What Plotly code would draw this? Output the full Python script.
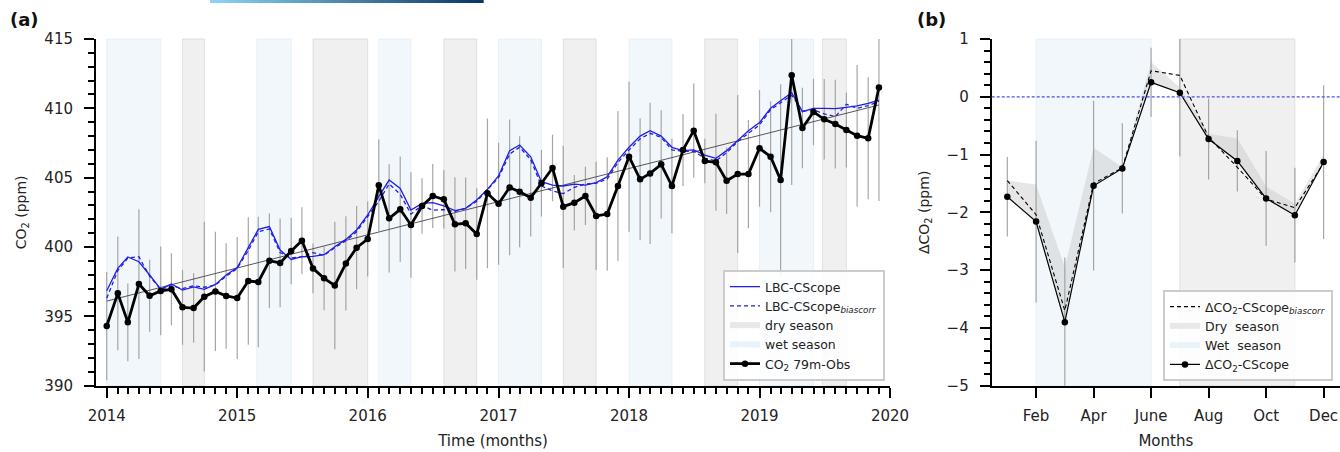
import numpy as np
import pandas as pd
import plotly.graph_objects as go

# ---------------- data: panel (a), monthly series 2014-01 .. 2019-12 ----------------
months = pd.date_range("2014-01-01", "2019-12-01", freq="MS")

obs_co2 = [394.30, 396.66, 394.57, 397.33, 396.49, 396.83, 396.95, 395.65, 395.60, 396.42, 396.80, 396.47,
           396.32, 397.55, 397.48, 399.01, 398.85, 399.71, 400.46, 398.46, 397.74, 397.23, 398.82, 399.95,
           400.58, 404.45, 402.07, 402.72, 401.59, 402.96, 403.68, 403.44, 401.64, 401.71, 400.94, 403.87,
           403.12, 404.30, 403.99, 403.56, 404.60, 405.70, 402.91, 403.20, 403.68, 402.24, 402.38, 404.40,
           406.51, 404.88, 405.31, 405.96, 404.40, 407.00, 408.39, 406.20, 406.11, 404.78, 405.26, 405.26,
           407.12, 406.51, 404.83, 412.38, 408.58, 409.74, 409.21, 408.87, 408.44, 408.03, 407.84, 411.51]

obs_err = [3.9, 4.1, 2.8, 5.4, 2.6, 3.2, 2.6, 2.7, 2.5, 5.4, 4.3, 3.8,
           4.4, 4.6, 4.7, 3.4, 3.2, 2.4, 2.4, 1.8, 2.3, 4.6, 3.4, 3.0,
           2.7, 3.3, 3.9, 3.8, 3.8, 2.0, 2.3, 2.1, 3.4, 3.3, 3.3, 5.4,
           4.4, 4.9, 4.0, 2.8, 2.4, 2.4, 4.4, 2.0, 2.1, 3.9, 4.1, 5.4,
           5.4, 4.4, 5.1, 3.9, 3.4, 2.6, 3.4, 1.6, 3.5, 2.4, 5.7, 3.9,
           4.2, 4.0, 6.9, 7.9, 2.9, 2.4, 2.9, 3.2, 2.7, 5.1, 4.4, 8.2]

lbc_cscope = [396.85, 398.46, 399.28, 398.94, 397.98, 396.96, 397.33, 396.90, 397.12, 396.95, 397.30, 397.98,
              398.52, 400.02, 401.27, 401.47, 399.78, 399.10, 399.30, 399.33, 399.45, 400.02, 400.55, 401.23,
              402.31, 403.63, 404.83, 404.23, 402.67, 403.15, 403.20, 402.96, 402.62, 402.79, 403.39, 404.16,
              405.12, 406.95, 407.36, 406.51, 404.71, 404.47, 404.40, 404.54, 404.47, 404.64, 405.07, 406.27,
              407.19, 408.00, 408.39, 408.00, 407.19, 406.95, 407.00, 406.63, 406.40, 406.95, 407.72, 408.39,
              408.97, 410.00, 410.55, 411.13, 409.76, 410.00, 410.00, 409.98, 410.07, 410.17, 410.36, 410.60]

lbc_biascorr = [396.30, 398.30, 399.20, 399.30, 397.90, 396.95, 397.20, 397.00, 397.20, 397.10, 397.25, 397.90,
                398.45, 399.75, 401.10, 401.30, 399.60, 399.20, 399.30, 399.59, 399.40, 399.95, 400.45, 401.10,
                402.20, 403.30, 404.55, 403.80, 402.38, 403.00, 402.65, 402.70, 402.55, 402.80, 403.30, 404.10,
                405.00, 406.70, 407.20, 406.30, 404.40, 404.05, 403.85, 404.30, 404.55, 404.60, 404.90, 406.10,
                407.00, 407.80, 408.20, 407.90, 407.00, 406.90, 406.90, 406.40, 406.20, 406.80, 407.60, 408.20,
                408.80, 409.90, 410.40, 410.95, 409.80, 409.90, 409.60, 409.40, 410.30, 410.00, 410.20, 410.50]

trend_dates = ["2014-01-01", "2019-12-01"]
trend_co2 = [396.10, 410.24]

wet_start = ["2014-01-01", "2015-02-25", "2016-02-01", "2017-01-01", "2018-01-01", "2019-01-01"]
wet_end = ["2014-06-01", "2015-06-01", "2016-05-01", "2017-05-01", "2018-05-01", "2019-06-01"]
dry_start = ["2014-08-01", "2015-08-01", "2016-08-01", "2017-07-01", "2018-08-01", "2019-06-26"]
dry_end = ["2014-10-01", "2016-01-01", "2016-11-01", "2017-10-01", "2018-11-01", "2019-09-01"]

year_ticks = ["2014-01-01", "2015-01-01", "2016-01-01", "2017-01-01", "2018-01-01", "2019-01-01", "2020-01-01"]
year_labels = ["2014", "2015", "2016", "2017", "2018", "2019", "2020"]

# ---------------- data: panel (b), mean seasonal anomaly ----------------
month_num = list(range(1, 13))
delta_cscope = [-1.73, -2.16, -3.90, -1.54, -1.24, 0.25, 0.07, -0.73, -1.11, -1.76, -2.05, -1.13]
delta_err = [0.69, 1.40, 1.12, 1.47, 0.78, 0.60, 1.10, 0.70, 0.53, 0.82, 0.82, 1.33]
delta_biascorr = [-1.45, -2.04, -3.70, -1.50, -1.23, 0.45, 0.37, -0.70, -1.22, -1.77, -1.92, -1.15]
delta_band_hi = [-1.45, -1.52, -2.95, -0.88, -1.22, 0.60, 0.16, -0.64, -0.72, -1.55, -1.85, -1.00]
delta_band_lo = [-1.73, -2.17, -3.90, -1.55, -1.25, 0.25, 0.07, -0.73, -1.11, -1.77, -2.05, -1.13]
wet_months = [2, 6]
dry_months = [7, 11]
month_ticks = [2, 4, 6, 8, 10, 12]
month_labels = ["Feb", "Apr", "June", "Aug", "Oct", "Dec"]

# ---------------- styling ----------------
W, H = 1340, 452
FONT = "DejaVu Sans"
DRY = "rgba(226,226,226,0.5)"
DRY_EDGE = "rgba(205,205,205,0.55)"
WET = "rgba(224,238,246,0.45)"
WET_EDGE = "rgba(215,232,242,0.5)"
BLUE = "#1f1fe6"
ERR = "rgba(150,150,150,0.85)"

ydom = [1 - 385.7 / H, 1 - 39 / H]

fig = go.Figure()

# season shading, panel (a)
for s, e in zip(dry_start, dry_end):
    fig.add_shape(type="rect", xref="x", yref="y domain", x0=s, x1=e, y0=0, y1=1,
                  fillcolor=DRY, line=dict(color=DRY_EDGE, width=1), layer="below")
for s, e in zip(wet_start, wet_end):
    fig.add_shape(type="rect", xref="x", yref="y domain", x0=s, x1=e, y0=0, y1=1,
                  fillcolor=WET, line=dict(color=WET_EDGE, width=1), layer="below")

# season shading, panel (b)
fig.add_shape(type="rect", xref="x2", yref="y2 domain", x0=wet_months[0], x1=wet_months[1], y0=0, y1=1,
              fillcolor=WET, line=dict(color=WET_EDGE, width=1), layer="below")
fig.add_shape(type="rect", xref="x2", yref="y2 domain", x0=dry_months[0], x1=dry_months[1], y0=0, y1=1,
              fillcolor=DRY, line=dict(color=DRY_EDGE, width=1), layer="below")

# ---- panel (a) traces ----
fig.add_trace(go.Scatter(x=months, y=obs_co2, mode="markers",
                         marker=dict(size=1, color="rgba(0,0,0,0)"),
                         error_y=dict(type="data", array=obs_err, color=ERR, thickness=1.2, width=0),
                         showlegend=False, hoverinfo="skip"))
fig.add_trace(go.Scatter(x=trend_dates, y=trend_co2, mode="lines",
                         line=dict(color="#444444", width=0.9), showlegend=False))
fig.add_trace(go.Scatter(x=months, y=lbc_cscope, mode="lines", name="LBC-CScope",
                         line=dict(color=BLUE, width=1.3), legend="legend", legendrank=1))
fig.add_trace(go.Scatter(x=months, y=lbc_biascorr, mode="lines",
                         name="LBC-CScope<sub><i>biascorr</i></sub>",
                         line=dict(color=BLUE, width=1.3, dash="4px,3px"), legend="legend", legendrank=2))
fig.add_trace(go.Scatter(x=[None], y=[None], mode="none", fill="toself", fillcolor="rgba(226,226,226,0.8)",
                         name="dry season", legend="legend", legendrank=3))
fig.add_trace(go.Scatter(x=[None], y=[None], mode="none", fill="toself", fillcolor="rgba(228,240,247,0.8)",
                         name="wet season", legend="legend", legendrank=4))
fig.add_trace(go.Scatter(x=months, y=obs_co2, mode="lines+markers", name="CO<sub>2</sub> 79m-Obs",
                         line=dict(color="black", width=2.8), marker=dict(size=6.5, color="black"),
                         legend="legend", legendrank=5))

# ---- panel (b) traces ----
fig.add_trace(go.Scatter(x=month_num, y=delta_band_lo, mode="lines", line=dict(width=0),
                         showlegend=False, xaxis="x2", yaxis="y2", hoverinfo="skip"))
fig.add_trace(go.Scatter(x=month_num, y=delta_band_hi, mode="lines", line=dict(width=0),
                         fill="tonexty", fillcolor="rgba(200,200,200,0.45)",
                         showlegend=False, xaxis="x2", yaxis="y2", hoverinfo="skip"))
fig.add_trace(go.Scatter(x=month_num, y=delta_cscope, mode="markers",
                         marker=dict(size=1, color="rgba(0,0,0,0)"),
                         error_y=dict(type="data", array=delta_err, color=ERR, thickness=1.2, width=0),
                         showlegend=False, xaxis="x2", yaxis="y2", hoverinfo="skip"))
fig.add_trace(go.Scatter(x=month_num, y=delta_biascorr, mode="lines",
                         name="ΔCO<sub>2</sub>-CScope<sub><i>biascorr</i></sub>",
                         line=dict(color="black", width=1.1, dash="4px,3px"),
                         xaxis="x2", yaxis="y2", legend="legend2", legendrank=1))
fig.add_trace(go.Scatter(x=[None], y=[None], mode="none", fill="toself", fillcolor="rgba(226,226,226,0.8)",
                         name="Dry  season", xaxis="x2", yaxis="y2", legend="legend2", legendrank=2))
fig.add_trace(go.Scatter(x=[None], y=[None], mode="none", fill="toself", fillcolor="rgba(228,240,247,0.8)",
                         name="Wet  season", xaxis="x2", yaxis="y2", legend="legend2", legendrank=3))
fig.add_trace(go.Scatter(x=month_num, y=delta_cscope, mode="lines+markers",
                         name="ΔCO<sub>2</sub>-CScope",
                         line=dict(color="black", width=1.2), marker=dict(size=6.5, color="black"),
                         xaxis="x2", yaxis="y2", legend="legend2", legendrank=4))

# zero reference line in panel (b)
fig.add_shape(type="line", xref="x2 domain", yref="y2", x0=0, x1=1, y0=0, y1=0,
              line=dict(color="#4f4fe8", width=1.2, dash="3px,2px"))

axis_common = dict(showline=True, linecolor="black", linewidth=2, ticks="outside",
                   tickcolor="black", ticklen=10, tickwidth=2, showgrid=False, zeroline=False,
                   mirror=False, automargin=False,
                   tickfont=dict(family=FONT, size=15, color="#222"))

fig.update_layout(
    width=W, height=H, margin=dict(l=0, r=0, t=0, b=0, autoexpand=False),
    paper_bgcolor="white", plot_bgcolor="rgba(0,0,0,0)",
    font=dict(family=FONT, size=14, color="#222"),
    xaxis=dict(domain=[96 / W, 890 / W], type="date", range=["2013-12-02", "2020-01-01"],
               tickvals=year_ticks, ticktext=year_labels, anchor="y", ticklabelstandoff=5,
               minor=dict(dtick="M1", tick0="2014-01-01", ticklen=6, tickwidth=1.5, ticks="outside",
                          tickcolor="black", showgrid=False),
               title=dict(text="Time (months)", font=dict(family=FONT, size=15), standoff=12),
               **axis_common),
    yaxis=dict(domain=ydom, range=[390, 415], tickvals=[390, 395, 400, 405, 410, 415], anchor="x",
               ticklabelstandoff=8,
               minor=dict(dtick=1, ticklen=6, tickwidth=1.5, ticks="outside", tickcolor="black",
                          showgrid=False),
               title=dict(text="CO<sub>2</sub> (ppm)", font=dict(family=FONT, size=14), standoff=14),
               **axis_common),
    xaxis2=dict(domain=[991.7 / W, 1.0], range=[0.457, 12.57], tickvals=month_ticks,
                ticktext=month_labels, anchor="y2", ticklabelstandoff=5,
                title=dict(text="Months", font=dict(family=FONT, size=15), standoff=12),
                **axis_common),
    yaxis2=dict(domain=ydom, range=[-5, 1], tickvals=[-5, -4, -3, -2, -1, 0, 1], anchor="x2",
                ticktext=["\u22125", "\u22124", "\u22123", "\u22122", "\u22121", "0", "1"],
                ticklabelstandoff=8,
                minor=dict(dtick=0.2, tick0=0, ticklen=6, tickwidth=1.5, ticks="outside",
                           tickcolor="black", showgrid=False),
                title=dict(text="ΔCO<sub>2</sub> (ppm)", font=dict(family=FONT, size=14), standoff=14),
                **axis_common),
    legend=dict(x=885 / W, y=1 - 381 / H, xanchor="right", yanchor="bottom", traceorder="normal",
                bgcolor="rgba(255,255,255,0.85)", bordercolor="#cccccc", borderwidth=2,
                font=dict(family=FONT, size=12.5, color="#222"), tracegroupgap=0),
    legend2=dict(x=1333 / W, y=1 - 381 / H, xanchor="right", yanchor="bottom", traceorder="normal",
                 bgcolor="rgba(255,255,255,0.85)", bordercolor="#cccccc", borderwidth=2,
                 font=dict(family=FONT, size=12.5, color="#222"), tracegroupgap=0),
    showlegend=True,
)

# panel letters
fig.add_annotation(text="<b>(a)</b>", xref="paper", yref="paper", x=8 / W, y=1 - 20 / H,
                   xanchor="left", yanchor="middle", showarrow=False,
                   font=dict(family=FONT, size=18, color="#111"))
fig.add_annotation(text="<b>(b)</b>", xref="paper", yref="paper", x=915 / W, y=1 - 20 / H,
                   xanchor="left", yanchor="middle", showarrow=False,
                   font=dict(family=FONT, size=18, color="#111"))

# header colour strip above panel (a)
n_seg = 40
c0 = np.array([140, 212, 245])
c1 = np.array([10, 55, 100])
x_lo, x_hi = 210 / W, 483 / W
for k in range(n_seg):
    c = (c0 + (c1 - c0) * k / (n_seg - 1)).astype(int)
    fig.add_shape(type="rect", xref="paper", yref="paper",
                  x0=x_lo + (x_hi - x_lo) * k / n_seg, x1=x_lo + (x_hi - x_lo) * (k + 1) / n_seg + 0.0005,
                  y0=1 - 3 / H, y1=1.0, fillcolor=f"rgb({c[0]},{c[1]},{c[2]})", line=dict(width=0))

fig.write_html("out.html")
